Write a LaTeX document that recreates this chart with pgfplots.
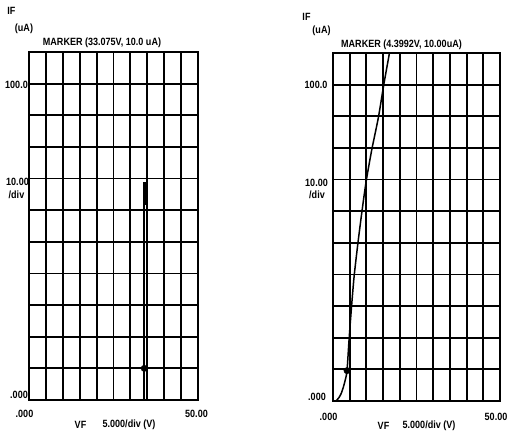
\documentclass[border=0pt]{standalone}
\usepackage{fontspec}
\setmainfont{Liberation Sans}[FakeStretch=0.86]
\usepackage{pgfplots}
\pgfplotsset{compat=1.18}
\pgfplotsset{tracer/.style={scale only axis, anchor=south west,
  xmin=0, xmax=50, ymin=0, ymax=110,
  xtick={0,5,...,50}, ytick={0,10,...,110},
  xticklabels={}, yticklabels={}, major tick length=0pt,
  grid=major, major grid style={black, line width=1.9bp},
  axis line style={black, line width=2.2bp}, clip=true}}
\begin{document}
\begin{tikzpicture}[x=1bp,y=1bp,
  lab/.style={inner sep=0pt, font=\bfseries\fontsize{10.5bp}{12bp}\selectfont}]
\useasboundingbox (0,0) rectangle (508,432);
\fill[white] (0,0) rectangle (508,432);
% left panel
\begin{axis}[tracer, at={(29bp,32bp)}, width=169bp, height=348bp]
\addplot[black, line width=1.6bp] coordinates {(0,0) (34.1,0) (34.1,68.5) (34.7,68.5) (34.7,61.5)};
\addplot[only marks, mark=*, mark size=3.2bp, black] coordinates {(34.1,10)};
\end{axis}
% right panel
\begin{axis}[tracer, at={(333bp,31bp)}, width=167bp, height=348bp]
\addplot[black, line width=1.5bp, smooth, tension=0.4] coordinates {
 (0.9,0) (1.8,1.1) (2.5,2.5) (3.1,4.4) (3.7,6.8) (4.2,9.6)
 (4.8,19.3) (5.5,29.2) (6.3,39.2) (7.4,49.4) (8.6,59.4)
 (9.9,69.3) (11.6,79.4) (13.6,89.7) (15.2,100.0) (16.9,110.0) (17.2,112)};
\addplot[only marks, mark=*, mark size=3.2bp, black] coordinates {(4.2,9.6)};
\end{axis}
% left labels
\node[lab] at (11.5,421.5) {IF};
\node[lab] at (24,403) {(uA)};
\node[lab] at (102,389.5) {MARKER (33.075V, 10.0 uA)};
\node[lab,anchor=east] at (28,347.5) {100.0};
\node[lab,anchor=east] at (29,250) {10.00};
\node[lab] at (16.5,237) {/div};
\node[lab,anchor=east] at (28,37.5) {.000};
\node[lab] at (24.5,18.5) {.000};
\node[lab] at (196.5,18.5) {50.00};
\node[lab] at (80.5,7.5) {VF};
\node[lab] at (129,7.5) {5.000/div (V)};
% right labels
\node[lab] at (306.5,415) {IF};
\node[lab] at (321.5,401) {(uA)};
\node[lab] at (401.5,387.5) {MARKER (4.3992V, 10.00uA)};
\node[lab,anchor=east] at (327.5,347) {100.0};
\node[lab,anchor=east] at (328,249) {10.00};
\node[lab] at (317,237) {/div};
\node[lab,anchor=east] at (326,35.5) {.000};
\node[lab] at (328.5,15) {.000};
\node[lab,anchor=east] at (507.5,15) {50.00};
\node[lab] at (383.5,6) {VF};
\node[lab] at (429,6) {5.000/div (V)};
\end{tikzpicture}
\end{document}
